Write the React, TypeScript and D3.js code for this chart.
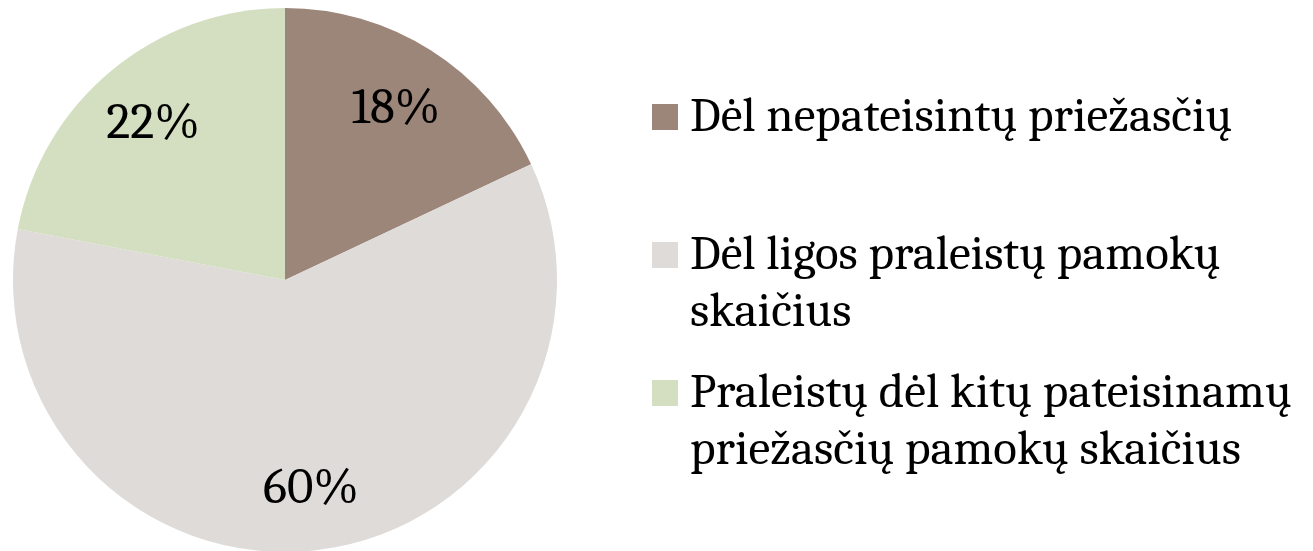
import React from 'react'
import * as d3 from 'd3'

// values (percent of missed lessons)
const categories = ['Dėl nepateisintų priežasčių', 'Dėl ligos praleistų pamokų skaičius', 'Praleistų dėl kitų pateisinamų priežasčių pamokų skaičius']
const values = [18, 60, 22]
const legendLines = [
  ['Dėl nepateisintų priežasčių'],
  ['Dėl ligos praleistų pamokų', 'skaičius'],
  ['Praleistų dėl kitų pateisinamų', 'priežasčių pamokų skaičius'],
]
const colors = ['#9c8579', '#dfdbd8', '#d3dfc0']

const font = "Cambria, 'Liberation Serif', serif"

const App = () => {
  const width = 1313
  const height = 551
  const cx = 285
  const cy = 280
  const radius = 272

  const pie = d3.pie<number>().sort(null).value((d) => d)
  const arcs = pie(values)
  const arc = d3.arc<d3.PieArcDatum<number>>().innerRadius(0).outerRadius(radius)
  const labelArc = d3.arc<d3.PieArcDatum<number>>().innerRadius(207).outerRadius(207)

  // legend rows
  const legendY = d3.scaleOrdinal<string, number>().domain(categories).range([104, 242, 380])

  return (
    <svg width={width} height={height} style={{ position: 'absolute', left: 0, top: 0, background: '#fff' }}>
      <g transform={`translate(${cx},${cy})`}>
        {arcs.map((a, i) => (
          <path key={i} d={arc(a) || ''} fill={colors[i]} />
        ))}
        {arcs.map((a, i) => {
          const [x, y] = labelArc.centroid(a)
          return (
            <text key={i} x={x} y={y} dy="0.35em" textAnchor="middle" fontFamily={font} fontSize={51} fill="#000">
              {`${values[i]}%`}
            </text>
          )
        })}
      </g>
      <g>
        {categories.map((c, i) => {
          const y0 = legendY(c)
          return (
            <g key={c}>
              <rect x={652} y={y0} width={26} height={26} fill={colors[i]} />
              {legendLines[i].map((line, j) => (
                <text key={j} x={690} y={y0 + 27 + j * 57} fontFamily={font} fontSize={49} fill="#000">
                  {line}
                </text>
              ))}
            </g>
          )
        })}
      </g>
    </svg>
  )
}

export default App
